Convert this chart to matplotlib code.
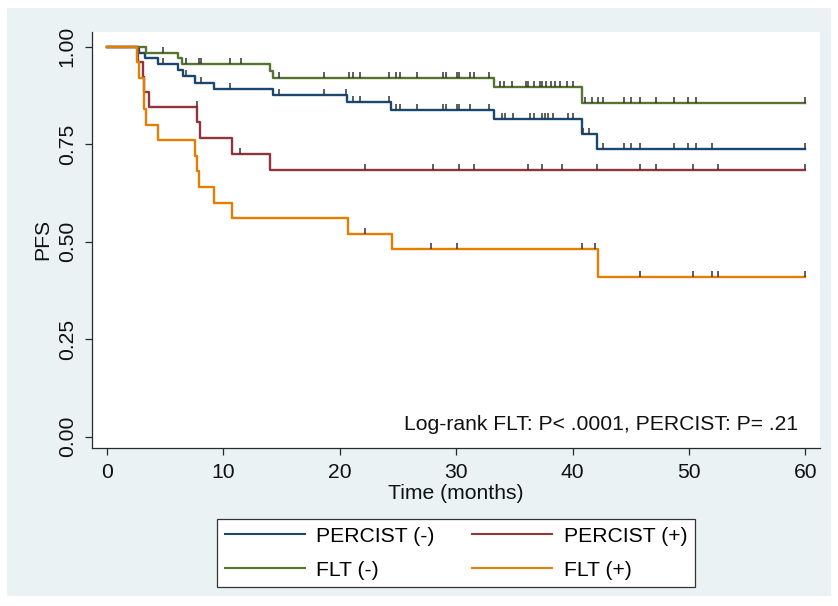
import numpy as np
import matplotlib
matplotlib.use("Agg")
import matplotlib.pyplot as plt
from matplotlib.patches import Rectangle
from matplotlib.lines import Line2D
from matplotlib.path import Path

plt.rcParams['font.family'] = ['Liberation Sans', 'DejaVu Sans']

# ---------------- data ----------------
end_time = 60

blue_t = [0, 2.75, 3.3, 4.4, 6.1, 6.5, 7.6, 9.2, 14.3, 20.6, 24.4, 33.2, 40.8, 42.1]
blue_s = [1.0, 0.984, 0.970, 0.955, 0.939, 0.924, 0.908, 0.892, 0.877, 0.858, 0.838, 0.815, 0.776, 0.737]
blue_c = [4.8, 6.8, 8.05, 10.6, 14.8, 18.65, 20.5, 21.1, 21.7, 24.2, 24.8, 25.2, 26.6, 28.9, 29.1,
          30.1, 30.2, 31.2, 32.8, 33.9, 34.2, 34.9, 36.3, 36.7, 37.4, 37.6, 37.9, 38.3, 39.6, 40.0,
          40.9, 41.4, 42.6, 44.4, 45.0, 45.8, 48.7, 49.9, 50.6, 52.0, 60]

red_t = [0, 2.65, 3.1, 3.2, 3.6, 7.75, 7.95, 10.7, 14.0]
red_s = [1.0, 0.962, 0.923, 0.885, 0.846, 0.807, 0.766, 0.725, 0.685]
red_c = [7.7, 11.4, 22.2, 28.0, 30.26, 31.5, 36.2, 37.4, 39.1, 42.1, 45.8, 47.2, 50.3, 52.5, 60]

green_t = [0, 3.35, 6.1, 6.4, 14.0, 14.3, 33.2, 40.8]
green_s = [1.0, 0.984, 0.970, 0.955, 0.937, 0.921, 0.896, 0.855]
green_c = [4.8, 6.8, 7.9, 8.05, 10.6, 11.5, 14.8, 18.65, 20.8, 21.1, 21.7, 24.2, 24.8, 25.2, 26.6,
           28.9, 29.1, 30.1, 30.2, 31.2, 31.5, 32.8, 33.8, 34.1, 34.8, 36.0, 36.2, 36.65, 37.2,
           37.4, 37.7, 38.1, 38.5, 38.9, 39.5, 40.0, 41.1, 41.7, 42.15, 42.6, 44.4, 45.0, 45.8,
           47.2, 48.7, 49.9, 50.6, 60]

orange_t = [0, 2.55, 2.75, 3.2, 3.35, 4.4, 7.6, 7.7, 7.9, 9.2, 10.7, 20.7, 24.5, 42.2]
orange_s = [1.0, 0.96, 0.92, 0.84, 0.80, 0.76, 0.72, 0.68, 0.64, 0.60, 0.56, 0.52, 0.48, 0.41]
orange_c = [22.2, 27.85, 30.1, 40.8, 41.95, 45.8, 50.3, 52.0, 52.5, 60]

labels = ['PERCIST (-)', 'PERCIST (+)', 'FLT (-)', 'FLT (+)']
colors = ['#1a476f', '#90353b', '#55752f', '#e37e00']

x_ticks = [0, 10, 20, 30, 40, 50, 60]
y_ticks = [0.00, 0.25, 0.50, 0.75, 1.00]
y_ticklabels = ['0.00', '0.25', '0.50', '0.75', '1.00']
annotation = 'Log-rank FLT: P< .0001, PERCIST: P= .21'

FS = 15.2

# ---------------- figure ----------------
W, H = 838, 606
fig = plt.figure(figsize=(W / 100, H / 100), dpi=100, facecolor='white')
fig.patches.append(Rectangle((7 / W, 1 - 596 / H), (831 - 7) / W, (596 - 8) / H,
                             transform=fig.transFigure, facecolor='#eaf2f3',
                             edgecolor='none', zorder=-10))

ax = fig.add_axes([92 / W, 1 - 448 / H, 728 / W, (448 - 31.7) / H])
ax.set_zorder(1)
ax.set_facecolor('white')

tick_marker = Path([(0, 0), (0, 1)], [Path.MOVETO, Path.LINETO])

series = [(blue_t, blue_s, blue_c), (red_t, red_s, red_c),
          (green_t, green_s, green_c), (orange_t, orange_s, orange_c)]

handles = []
for (t, s, c), col, lab in zip(series, colors, labels):
    tt = list(t) + [end_time]
    ss = list(s) + [s[-1]]
    ax.step(tt, ss, where='post', color=col, lw=1.7, zorder=3, label=lab)
    handles.append(Line2D([0], [0], color=col, lw=1.5))
    idx = np.searchsorted(np.asarray(t), np.asarray(c), side='right') - 1
    cy = np.asarray(s)[idx]
    ax.plot(c, cy, linestyle='none', marker=tick_marker, markersize=8,
            markeredgewidth=1.1, markeredgecolor='#333333', color='#333333', zorder=4)

ax.set_xlim(-15 / 11.64, 60 + 14.5 / 11.64)
ax.set_ylim(-11.3 / 390, 1 + 15 / 390)

for sp in ['top', 'right']:
    ax.spines[sp].set_visible(False)
for sp in ['left', 'bottom']:
    ax.spines[sp].set_color('#2a2a2a')
    ax.spines[sp].set_linewidth(0.9)

ax.set_xticks(x_ticks)
ax.set_xticklabels([str(v) for v in x_ticks])
ax.set_yticks(y_ticks)
ax.set_yticklabels(y_ticklabels)
ax.tick_params(axis='both', length=5, width=0.9, color='#2a2a2a', labelsize=FS,
               labelcolor='#111111')
ax.tick_params(axis='x', pad=6)
ax.tick_params(axis='y', pad=6)
for lab in ax.get_yticklabels():
    lab.set_rotation(90)
    lab.set_va('center')

ax.set_xlabel('Time (months)', fontsize=FS, labelpad=1.5, color='#111111')
ax.set_ylabel('PFS', fontsize=FS, labelpad=4, color='#111111')

ax.text(0.9698, 0.0432, annotation, transform=ax.transAxes, ha='right', va='baseline',
        fontsize=FS, color='#111111')

# legend filled row by row: matplotlib fills columns first, so reorder
order = [0, 2, 1, 3]
leg = fig.legend([handles[i] for i in order], [labels[i] for i in order], ncol=2,
                 loc='upper left', bbox_to_anchor=(217 / W, 1 - 519 / H), fontsize=FS,
                 frameon=True, fancybox=False, shadow=False, edgecolor='#333333',
                 facecolor='white', framealpha=1, handlelength=3.8, handletextpad=0.55,
                 columnspacing=1.75, labelspacing=0.72, borderpad=0.36, borderaxespad=0)
leg.get_frame().set_linewidth(0.9)

fig.savefig('out.png', dpi=100, facecolor='white')
